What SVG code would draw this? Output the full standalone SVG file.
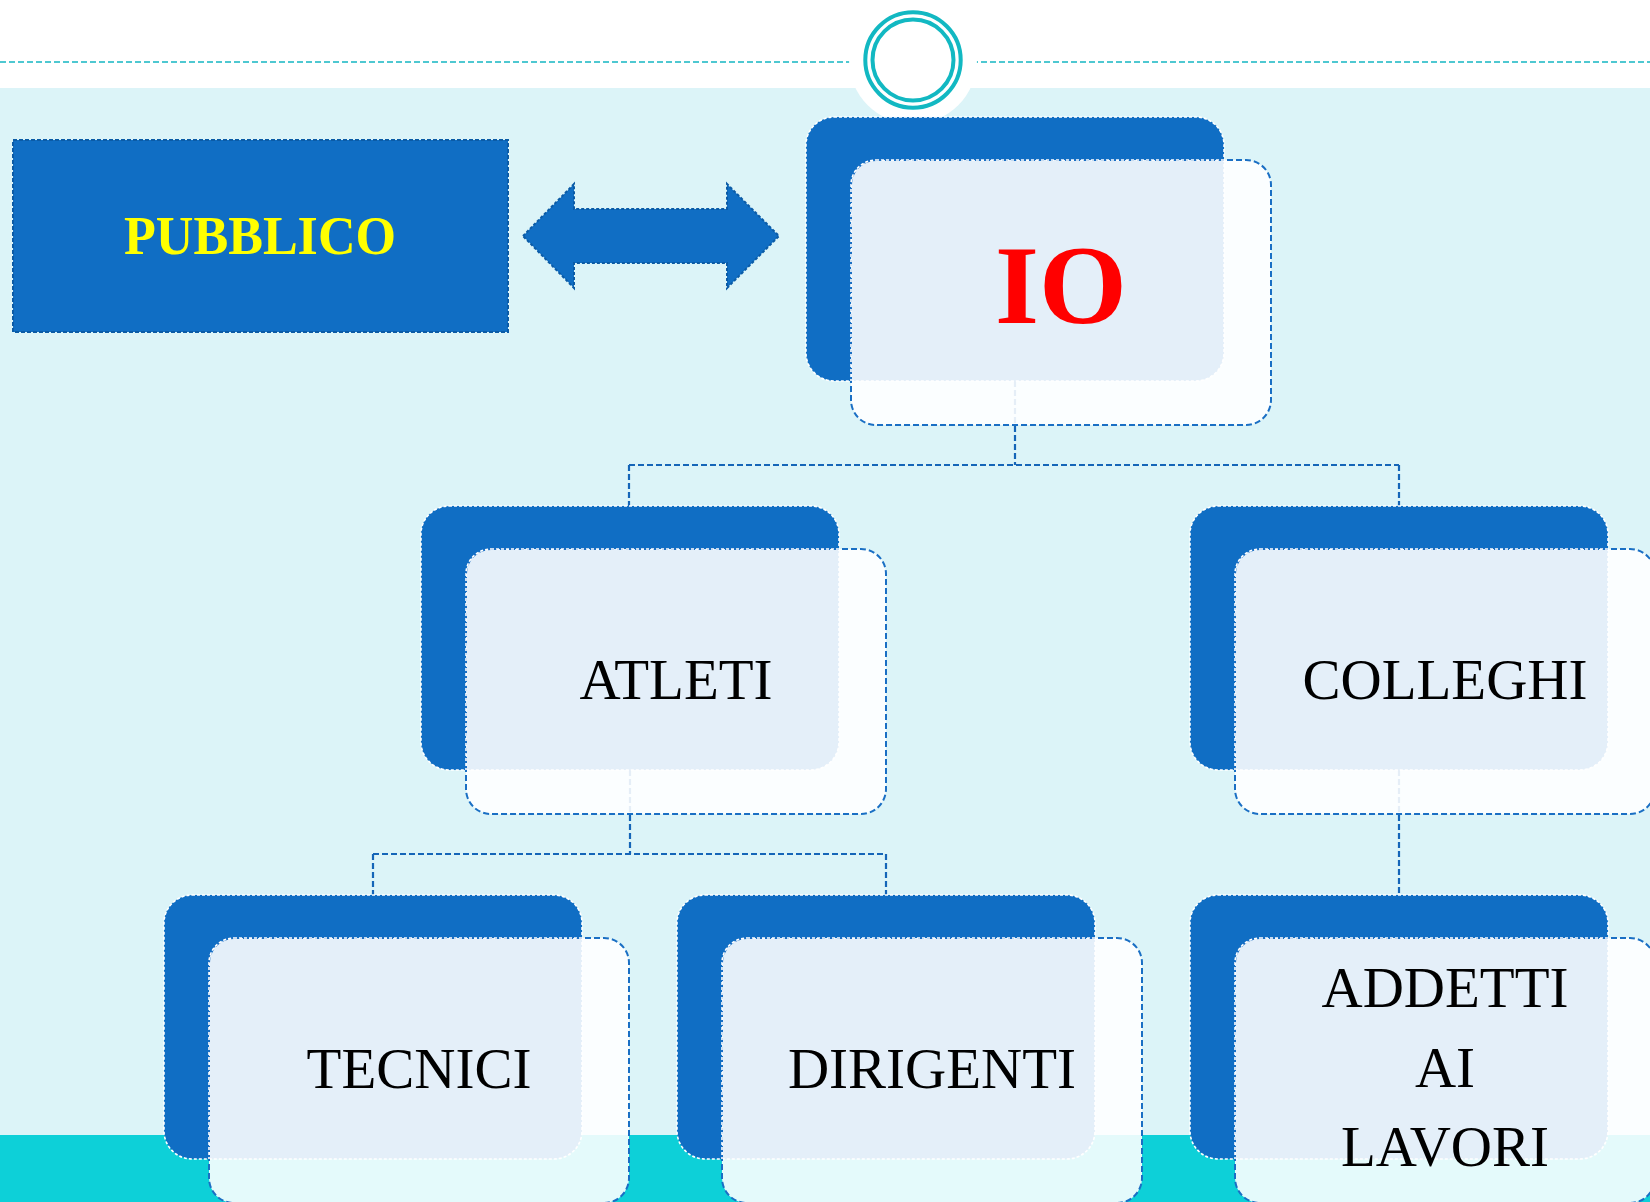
<svg xmlns="http://www.w3.org/2000/svg" xmlns:xlink="http://www.w3.org/1999/xlink" width="1650" height="1202" viewBox="0 0 1650 1202">
<style>
.dk{fill:#106ec4;stroke:#ffffff;stroke-width:1.6;stroke-dasharray:3 2}
.lt{fill:#ffffff;fill-opacity:0.89;stroke:#1a6fc4;stroke-width:2;stroke-dasharray:6 3}
.ltw{fill:none;stroke:#ffffff;stroke-width:1.6;stroke-dasharray:3 2}
.lbl{font-family:"Liberation Serif","Times New Roman",serif;font-size:57px;fill:#000000;text-anchor:middle}
.conn{fill:none;stroke:#1565b8;stroke-width:2.2;stroke-dasharray:6 3}
</style>
<defs>
<clipPath id="clipDk"><rect x="0" y="0" width="418" height="264" rx="28"/></clipPath>
<g id="nodeShape">
<rect class="dk" x="0" y="0" width="418" height="264" rx="28"/>
<rect class="lt" x="45" y="43" width="420" height="265" rx="25"/>
<rect class="ltw" x="45" y="43" width="420" height="265" rx="25" clip-path="url(#clipDk)"/>
</g>
</defs>
<rect x="0" y="0" width="1650" height="1202" fill="#dcf4f8"/>
<rect x="0" y="0" width="1650" height="88" fill="#ffffff"/>
<rect x="0" y="1135" width="1650" height="67" fill="#0dd0d8"/>
<line x1="0" y1="62" x2="1650" y2="62" stroke="#14b6c2" stroke-width="1.5" stroke-dasharray="6 3"/>
<g id="header-circle">
<circle cx="913" cy="60" r="64" fill="#ffffff"/>
<circle cx="913" cy="60" r="47.7" fill="none" stroke="#12b8c2" stroke-width="4"/>
<circle cx="913" cy="60" r="40.5" fill="none" stroke="#12b8c2" stroke-width="4"/>
</g>
<g id="connectors">
<path class="conn" d="M1015,381 V465 M629,465 H1399 M629,465 V506 M1399,465 V506"/>
<path class="conn" d="M630,770 V854 M373,854 H886 M373,854 V895 M886,854 V895"/>
<path class="conn" d="M1399,770 V895"/>
<path d="M523,236 L574,184 L574,209 L727,209 L727,184 L779,236 L727,288 L727,263 L574,263 L574,288 Z" fill="#106ec4" stroke="#0b5ba6" stroke-width="2" stroke-dasharray="3 2"/>
</g>
<g id="node-pubblico">
<rect x="13" y="140" width="495" height="192" fill="#106ec4" stroke="#0b5ba6" stroke-width="2" stroke-dasharray="4 2"/>
<text x="260" y="254" font-family="'Liberation Serif','Times New Roman',serif" font-weight="bold" font-size="55" fill="#ffff00" text-anchor="middle" textLength="272" lengthAdjust="spacingAndGlyphs">PUBBLICO</text>
</g>
<g id="node-io">
<use xlink:href="#nodeShape" transform="translate(806,117)"/>
<text x="1061" y="323" font-family="'Liberation Serif','Times New Roman',serif" font-weight="bold" font-size="113" fill="#ff0000" text-anchor="middle">IO</text>
</g>
<g id="node-atleti">
<use xlink:href="#nodeShape" transform="translate(421,506)"/>
<text class="lbl" x="676" y="699">ATLETI</text>
</g>
<g id="node-colleghi">
<use xlink:href="#nodeShape" transform="translate(1190,506)"/>
<text class="lbl" x="1445" y="699">COLLEGHI</text>
</g>
<g id="node-tecnici">
<use xlink:href="#nodeShape" transform="translate(164,895)"/>
<text class="lbl" x="419" y="1088">TECNICI</text>
</g>
<g id="node-dirigenti">
<use xlink:href="#nodeShape" transform="translate(677,895)"/>
<text class="lbl" x="932" y="1088">DIRIGENTI</text>
</g>
<g id="node-addetti">
<use xlink:href="#nodeShape" transform="translate(1190,895)"/>
<text class="lbl" x="1445" y="1007">ADDETTI</text>
<text class="lbl" x="1445" y="1087">AI</text>
<text class="lbl" x="1445" y="1166">LAVORI</text>
</g>
</svg>
